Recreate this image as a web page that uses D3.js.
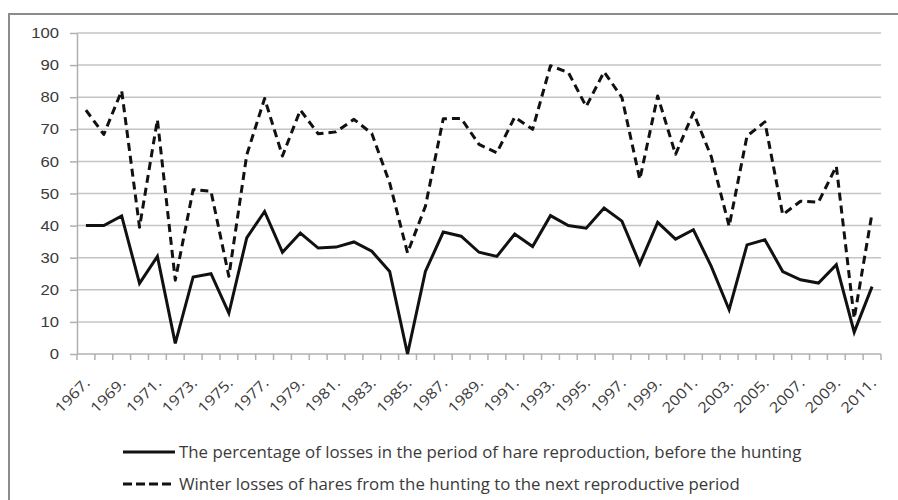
<!DOCTYPE html>
<html>
<head>
<meta charset="utf-8">
<script src="https://cdn.jsdelivr.net/npm/d3@7"></script>
<style>
  body { margin: 0; background: #fff; }
  svg { display: block; font-family: "Open Sans", Lato, sans-serif; }
  .grid line { stroke: #c4c4c4; stroke-width: 1.5; }
  .axis path, .axis line { stroke: #b0b0b0; stroke-width: 1.5; }
  .axis text { fill: #3a3a3a; font-size: 14.5px; }
</style>
</head>
<body>
<svg id="chart" width="898" height="500"></svg>
<script>
// ── Data ─────────────────────────────────────────────────────────────
const years = d3.range(1967, 2012).map(y => y + '.');

// losses in the period of hare reproduction, before the hunting
const reproLosses = [
  40, 40, 43, 22, 30.4, 3.3, 24, 25, 12.7, 36.2,
  44.4, 31.7, 37.7, 33, 33.3, 34.9, 32, 25.7, 0, 25.7,
  38, 36.7, 31.7, 30.4, 37.4, 33.5, 43.1, 40, 39.2, 45.5,
  41.4, 28.1, 41, 35.8, 38.7, 27.3, 13.8, 34, 35.6, 25.7,
  23.1, 22.1, 27.8, 6.8, 21
];

// winter losses, from the hunting to the next reproductive period
const winterLosses = [
  76, 68.4, 82, 39.5, 73, 23, 51.2, 50.7, 24.2, 62,
  79.6, 61.7, 76, 68.6, 69.2, 73.1, 68.7, 53.3, 31.5, 46,
  73.3, 73.4, 65.3, 62.7, 73.8, 70, 89.8, 87.7, 77.1, 87.9,
  79.9, 54.4, 80.4, 62.2, 75.2, 61.5, 39.8, 67.9, 72.3, 43.4,
  47.6, 47.3, 58.5, 11.1, 43.9
];

const yTicks = d3.range(0, 101, 10);

const seriesNames = [
  'The percentage of losses in the period of hare reproduction, before the hunting',
  'Winter losses of hares from the hunting to the next reproductive period'
];

// ── Layout ───────────────────────────────────────────────────────────
const svg = d3.select('#chart');
const plotLeft = 77, plotRight = 881, plotTop = 33, plotBottom = 354;
const stretch = 1.15; // the source picture is a little wider than tall

const x = d3.scaleBand().domain(years).range([plotLeft, plotRight]).padding(0);
const y = d3.scaleLinear().domain([0, 100]).range([plotBottom, plotTop]);

// outer frame (only top and left edges are in the picture)
svg.append('path')
  .attr('d', `M9,510 V14 H900`)
  .attr('fill', 'none')
  .attr('stroke', '#8c8c8c')
  .attr('stroke-width', 2);

// horizontal gridlines
svg.append('g')
  .attr('class', 'grid')
  .selectAll('line')
  .data(yTicks.filter(d => d > 0))
  .join('line')
  .attr('x1', plotLeft).attr('x2', plotRight)
  .attr('y1', d => y(d)).attr('y2', d => y(d));

// y axis
const yAxis = svg.append('g')
  .attr('class', 'axis')
  .attr('transform', `translate(${plotLeft},0)`)
  .call(d3.axisLeft(y).tickValues(yTicks).tickSize(7).tickSizeOuter(0).tickPadding(0));
yAxis.selectAll('.tick text')
  .attr('x', null)
  .attr('transform', `translate(-18,0) scale(${stretch},1)`);

// x axis: ticks between categories, labels on every second year
const xAxis = svg.append('g')
  .attr('class', 'axis')
  .attr('transform', `translate(0,${plotBottom})`);
xAxis.append('line')
  .attr('x1', plotLeft).attr('x2', plotRight);
xAxis.selectAll('line.tick')
  .data(years.concat(['end']))
  .join('line')
  .attr('class', 'tick')
  .attr('x1', (d, i) => plotLeft + i * x.bandwidth())
  .attr('x2', (d, i) => plotLeft + i * x.bandwidth())
  .attr('y1', 0).attr('y2', 6);
xAxis.selectAll('text')
  .data(years.filter((d, i) => i % 2 === 0))
  .join('text')
  .attr('text-anchor', 'end')
  .attr('transform', d =>
    `translate(${x(d) + x.bandwidth() / 2 + 5},30) rotate(-45) scale(${stretch},1)`)
  .text(d => d);

// ── Lines ────────────────────────────────────────────────────────────
const line = d3.line()
  .x((d, i) => x(years[i]) + x.bandwidth() / 2)
  .y(d => y(d));

svg.append('path')
  .datum(winterLosses)
  .attr('fill', 'none')
  .attr('stroke', '#111')
  .attr('stroke-width', 3)
  .attr('stroke-dasharray', '8,5')
  .attr('stroke-linejoin', 'round')
  .attr('d', line);

svg.append('path')
  .datum(reproLosses)
  .attr('fill', 'none')
  .attr('stroke', '#111')
  .attr('stroke-width', 3)
  .attr('d', line);

// ── Legend ───────────────────────────────────────────────────────────
const legend = svg.append('g').attr('transform', 'translate(123,452)');
seriesNames.forEach((name, i) => {
  const row = legend.append('g').attr('transform', `translate(0,${i * 32})`);
  row.append('line')
    .attr('x1', 0).attr('x2', 52)
    .attr('stroke', '#111')
    .attr('stroke-width', 3)
    .attr('stroke-dasharray', i === 1 ? '9,4' : null);
  row.append('text')
    .attr('transform', 'translate(56,0) scale(1.02,1)')
    .attr('dy', '0.35em')
    .attr('font-size', 16.5)
    .attr('fill', '#3a3a3a')
    .text(name);
});
</script>
</body>
</html>
